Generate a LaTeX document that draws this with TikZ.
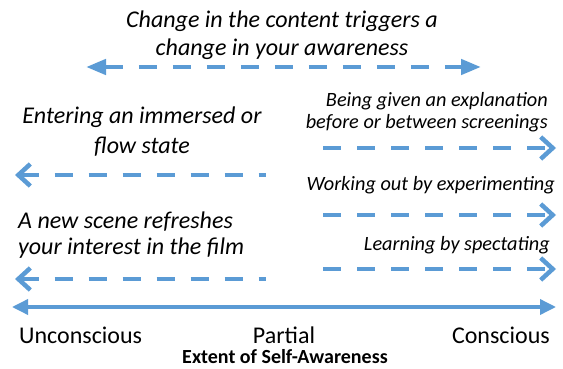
\documentclass[tikz,border=0pt]{standalone}
\usepackage{fontspec}
\setmainfont{Carlito}
\usetikzlibrary{arrows.meta}
\definecolor{flowblue}{HTML}{5B9BD5}
\tikzset{
  bigtext/.style={font=\itshape\fontsize{24}{28}\selectfont, inner sep=0pt},
  smalltext/.style={font=\itshape\fontsize{20.3}{21.5}\selectfont, inner sep=0pt},
  axistext/.style={font=\fontsize{24}{28}\selectfont, inner sep=0pt},
  dasharrow/.style={flowblue, line width=4.5pt, dash pattern=on 18pt off 16pt},
  barb/.style={dasharrow, -{Straight Barb[length=12pt, width=22pt]}},
}
\begin{document}
\begin{tikzpicture}[x=1pt, y=-1pt]
		\useasboundingbox (0,0) rectangle (563,369);
		
		% top: content change
		\node[bigtext, align=center] (change) at (282,35) {Change in the content triggers a\\change in your awareness};
		\coordinate (top-l) at (86,67);
		\coordinate (top-r) at (481,67);
		\draw[dasharrow, {Triangle[length=20pt, width=15pt]}-{Triangle[length=20pt, width=15pt]}] (top-l) -- (top-r);
		
		% towards conscious
		\node[smalltext, align=right, anchor=east] (explain) at (548,112) {Being given an explanation\\before or between screenings};
		\node[smalltext, anchor=east] (experiment) at (555,185) {Working out by experimenting};
		\node[smalltext, anchor=east] (spectate) at (550,245) {Learning by spectating};
		\coordinate (r1-a) at (323,148); \coordinate (r1-b) at (556,148);
		\coordinate (r2-a) at (323,215); \coordinate (r2-b) at (556,215);
		\coordinate (r3-a) at (323,269); \coordinate (r3-b) at (556,269);
		\draw[barb] (r1-a) -- (r1-b);
		\draw[barb] (r2-a) -- (r2-b);
		\draw[barb] (r3-a) -- (r3-b);
		
		% towards unconscious
		\node[bigtext, align=center, font=\itshape\fontsize{24}{30}\selectfont] (flow) at (142,132) {Entering an immersed or\\flow state};
		\node[bigtext, align=left, anchor=west, font=\itshape\fontsize{24}{25.5}\selectfont] (scene) at (18,235) {A new scene refreshes\\your interest in the film};
		\coordinate (l1-a) at (15,175); \coordinate (l1-b) at (266,175);
		\coordinate (l2-a) at (15,279); \coordinate (l2-b) at (266,279);
		\draw[dasharrow, {Straight Barb[length=12pt, width=22pt]}-] (l1-a) -- (l1-b);
		\draw[dasharrow, {Straight Barb[length=12pt, width=22pt]}-] (l2-a) -- (l2-b);
		
		% axis
		\coordinate (ax-l) at (12,307);
		\coordinate (ax-r) at (556,307);
		\draw[flowblue, line width=3.5pt, {Triangle[length=16pt, width=15pt]}-{Triangle[length=16pt, width=15pt]}] (ax-l) -- (ax-r);
		\node[axistext, anchor=west] (uncon) at (19,335) {Unconscious};
		\node[axistext] (partial) at (284,335) {Partial};
		\node[axistext, anchor=east] (con) at (550,335) {Conscious};
		\node[font=\bfseries\fontsize{20}{24}\selectfont, inner sep=0pt] (extent) at (285,357) {Extent of Self-Awareness};
	\end{tikzpicture}
\end{document}
